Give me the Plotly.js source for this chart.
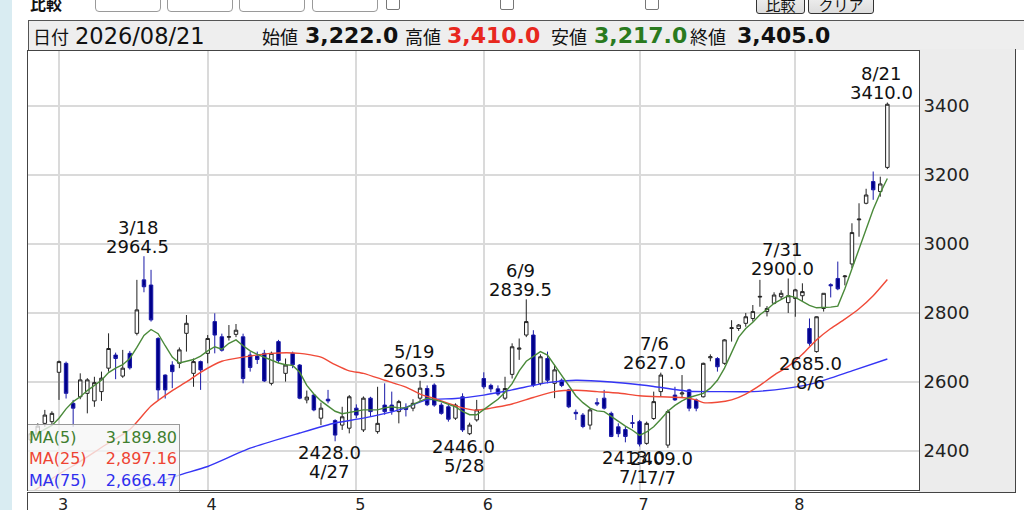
<!DOCTYPE html>
<html><head><meta charset="utf-8">
<script src="https://cdn.plot.ly/plotly-3.0.1.min.js"></script>
<style>
html,body{margin:0;padding:0;width:1024px;height:510px;overflow:hidden;background:#fff;font-family:"DejaVu Sans","Noto Sans CJK JP",sans-serif;color:#111;}
.abs{position:absolute;}
#side{left:0;top:0;width:12px;height:510px;background:#d9ecf2;}
.inp{top:-22px;height:32px;width:64px;border:1px solid #9a9a9a;border-radius:4px;background:#fff;}
.chk{top:-4px;width:12px;height:12px;border:1px solid #777;border-radius:2px;background:#fff;}
.btn{top:-18px;height:30px;border:1px solid #333;border-radius:3px;background:linear-gradient(#ffffff,#dcdcdc);font-size:15px;text-align:center;line-height:46px;overflow:hidden;}
#hdr{left:28px;top:20px;width:1000px;height:29px;background:#eeeeee;border-top:1px solid #555;border-left:1px solid #555;}
.ht{top:23px;height:26px;line-height:26px;white-space:nowrap;}
.kj{font-family:"Noto Sans CJK JP",sans-serif;font-size:18px;}
.num{font-size:22px;font-weight:bold;}
#rpanel{left:919px;top:49px;width:96px;height:443px;background:#ececec;border-right:1px solid #444;}
#xbox{left:27px;top:492px;width:988px;height:30px;border-top:1px solid #444;border-left:1px solid #444;background:#fff;}
#chart{left:0;top:0;width:1024px;height:510px;}
#leg{left:28px;top:424px;width:151px;height:67px;background:rgba(246,246,246,0.78);border-top:1px solid #999;border-right:1px solid #999;font-size:16px;}
.lr{position:absolute;left:1px;width:149px;height:22px;line-height:22px;}
.lr span{position:absolute;right:1px;}
</style></head><body>
<div id="side" class="abs"></div>
<div class="abs" style="left:30px;top:-9px;font-size:16px;font-weight:bold;">比較</div>
<div class="abs inp" style="left:95px;"></div>
<div class="abs inp" style="left:167px;"></div>
<div class="abs inp" style="left:239px;"></div>
<div class="abs inp" style="left:312px;"></div>
<div class="abs chk" style="left:386px;"></div>
<div class="abs chk" style="left:500px;"></div>
<div class="abs chk" style="left:645px;"></div>
<div class="abs btn" style="left:756px;width:47px;">比較</div>
<div class="abs btn" style="left:808px;width:64px;">クリア</div>
<div id="hdr" class="abs"></div>
<div class="abs ht kj" style="left:33px;">日付</div>
<div class="abs ht" style="left:75px;font-size:22.5px;">2026/08/21</div>
<div class="abs ht kj" style="left:262px;">始値</div>
<div class="abs ht num" style="left:305px;">3,222.0</div>
<div class="abs ht kj" style="left:405px;">高値</div>
<div class="abs ht num" style="left:447px;color:#e8281e;">3,410.0</div>
<div class="abs ht kj" style="left:551px;">安値</div>
<div class="abs ht num" style="left:594px;color:#2a7a1e;">3,217.0</div>
<div class="abs ht kj" style="left:690px;">終値</div>
<div class="abs ht num" style="left:737px;">3,405.0</div>
<div id="rpanel" class="abs"></div>
<div id="xbox" class="abs"></div>
<div id="chart" class="abs"></div>
<div id="leg" class="abs">
  <div class="lr" style="top:2px;color:#3f7f2f;">MA(5)<span>3,189.80</span></div>
  <div class="lr" style="top:23px;color:#ee4433;">MA(25)<span>2,897.16</span></div>
  <div class="lr" style="top:45px;color:#2f2fee;">MA(75)<span>2,666.47</span></div>
</div>
<script>
const dates = ['2/24','2/25','2/26','2/27',
'3/2','3/3','3/4','3/5','3/6','3/9','3/10','3/11','3/12','3/13','3/16','3/17','3/18','3/19','3/23','3/24','3/25','3/26','3/27','3/30','3/31',
'4/1','4/2','4/3','4/6','4/7','4/8','4/9','4/10','4/13','4/14','4/15','4/16','4/17','4/20','4/21','4/22','4/23','4/24','4/27','4/28','4/30',
'5/1','5/7','5/8','5/11','5/12','5/13','5/14','5/15','5/18','5/19','5/20','5/21','5/22','5/25','5/26','5/27','5/28','5/29',
'6/1','6/2','6/3','6/4','6/5','6/8','6/9','6/10','6/11','6/12','6/15','6/16','6/17','6/18','6/19','6/22','6/23','6/24','6/25','6/26','6/29','6/30',
'7/1','7/2','7/3','7/6','7/7','7/8','7/9','7/10','7/13','7/14','7/15','7/16','7/17','7/21','7/22','7/23','7/24','7/27','7/28','7/29','7/30','7/31',
'8/3','8/4','8/5','8/6','8/7','8/10','8/12','8/13','8/14','8/17','8/18','8/19','8/20','8/21'];

const open = [2432,2450,2480,2485,
2628,2654,2538,2557,2567,2545,2572,2640,2678,2617,2683,2741,2896,2881,2726,2620,2649,2654,2741,2625,2659,
2683,2775,2731,2730,2738,2731,2678,2675,2683,2596,2717,2625,2683,2649,2548,2562,2495,2550,2488,2475,2466,
2524,2461,2553,2456,2533,2533,2514,2526,2524,2553,2581,2591,2533,2528,2495,2557,2450,2490,
2610,2590,2580,2553,2622,2695,2736,2736,2596,2668,2596,2605,2577,2512,2504,2475,2540,2553,2509,2470,2462,2482,
2485,2422,2494,2572,2417,2562,2565,2577,2548,2557,2670,2668,2654,2755,2755,2770,2784,2846,2804,2828,2847,2830,
2842,2850,2755,2688,2813,2882,2900,2905,2942,3070,3118,3181,3152,3222];

const high = [2455,2480,2519,2515,
2662,2659,2548,2625,2611,2615,2630,2741,2685,2693,2690,2896,2964.5,2925,2730,2622,2660,2700,2794,2668,2662,
2736,2799,2740,2765,2768,2740,2688,2688,2693,2688,2722,2668,2688,2652,2575,2565,2540,2577,2492,2528,2562,
2535,2558,2557,2586,2596,2572,2548,2538,2550,2603.5,2590,2596,2540,2533,2538,2567,2482,2548,
2628,2595,2590,2615,2712,2726,2839.5,2750,2680,2688,2650,2610,2580,2520,2510,2524,2553,2577,2514,2480,2470,2504,
2490,2485,2572,2627,2520,2586,2620,2580,2552,2656,2680,2672,2724,2779,2768,2800,2823,2896,2820,2860,2866,2900,
2870,2886,2784,2790,2857,2886,2949,2910,3060,3118,3160,3210,3195,3410];

const low = [2420,2440,2470,2478,
2548,2552,2470,2550,2509,2528,2545,2630,2608,2612,2636,2735,2860,2775,2548,2552,2582,2640,2688,2586,2577,
2654,2683,2688,2720,2730,2596,2630,2652,2600,2590,2655,2601,2640,2550,2538,2515,2475,2538,2428,2461,2451,
2495,2455,2500,2450,2505,2505,2480,2500,2515,2545,2530,2528,2505,2485,2490,2455,2446,2485,
2580,2570,2560,2548,2610,2664,2730,2585,2590,2596,2553,2585,2524,2490,2466,2462,2530,2520,2440,2440,2425,2466,
2413,2418,2490,2557,2409,2545,2553,2515,2515,2555,2660,2630,2650,2717,2748,2760,2775,2818,2790,2825,2840,2800,
2789,2835,2705,2685,2804,2845,2866,2880,2930,3021,3115,3128,3137,3217];

const close = [2450,2472,2504,2509,
2659,2567,2524,2606,2606,2598,2611,2697,2668,2640,2641,2809,2876,2780,2577,2577,2630,2693,2770,2659,2635,
2726,2736,2692,2731,2750,2610,2642,2665,2603,2683,2662,2649,2650,2553,2556,2519,2524,2545,2446,2499,2557,
2504,2553,2514,2480,2514,2516,2543,2520,2538,2582,2534,2533,2509,2492,2533,2461,2475,2519,
2586,2580,2565,2581,2702,2698,2775,2591,2673,2605,2635,2590,2528,2508,2471,2519,2536,2524,2442,2450,2442,2480,
2420,2480,2543,2620,2514,2548,2568,2524,2524,2654,2673,2644,2722,2757,2765,2789,2804,2848,2813,2852,2857,2850,
2867,2862,2712,2789,2857,2879,2870,2907,3033,3072,3142,3157,3174,3405];

const ma5 = [2440,2452,2463,2474,
2495,2522,2543,2557,2575,2590,2605,2627,2640,2650,2668,2700,2735,2752,2740,2705,2672,2655,2660,2665,2675,
2690,2702,2695,2712,2722,2705,2690,2680,2672,2665,2655,2650,2648,2628,2590,2565,2545,2530,2515,2508,2512,
2515,2519,2519,2519,2525,2528,2525,2525,2535,2545,2553,2548,2543,2535,2528,2515,2505,2505,
2519,2535,2550,2570,2595,2632,2660,2675,2688,2678,2648,2620,2590,2560,2540,2524,2516,2514,2500,2485,2472,2460,
2445,2455,2470,2492,2515,2532,2545,2555,2562,2567,2582,2605,2640,2685,2730,2755,2773,2795,2810,2828,2840,2850,
2845,2833,2822,2815,2815,2817,2820,2870,2928,2985,3045,3100,3148,3189.8];

const ma25Dates = ['2/24','3/2','3/5','3/10','3/16','3/19','3/25','3/27','3/31','4/3','4/8','4/14','4/20','4/23','4/27','4/30','5/7','5/12','5/15','5/19','5/21','5/25','5/27','5/29','6/2','6/5','6/10','6/15','6/18','6/23','6/26','7/1','7/6','7/9','7/13','7/14','7/16','7/21','7/23','7/27','7/29','7/31','8/4','8/6','8/10','8/13','8/17','8/19','8/21'];
const ma25 = [2278,2333,2370,2410,2462,2530,2575,2600,2628,2660,2672,2683,2683,2672,2650,2632,2625,2605,2585,2565,2552,2538,2525,2518,2524,2536,2555,2572,2576,2572,2568,2560,2557,2555,2548,2540,2541,2548,2565,2590,2620,2645,2680,2722,2755,2782,2812,2850,2897.16];

const ma75Dates = ['2/24','3/2','3/10','3/17','3/26','4/1','4/9','4/20','4/27','5/7','5/14','5/20','5/26','6/1','6/5','6/12','6/18','6/25','7/1','7/3','7/10','7/16','7/24','7/31','8/6','8/14','8/21'];
const ma75 = [2175,2205,2250,2288,2330,2355,2408,2452,2481,2495,2519,2548,2552,2562,2577,2598,2605,2600,2592,2587,2573,2572,2572,2582,2598,2632,2666.47];

const monthTicks = ['3/2','4/1','5/1','6/1','7/1','8/3'];
const monthLabels = ['3','4','5','6','7','8'];
const yTicks = [2400,2600,2800,3000,3200,3400];

const peakDates = ['3/18','5/19','6/9','7/6','7/31','8/21'];
const peakVals = [2964.5,2603.5,2839.5,2627.0,2900.0,3410.0];
const troughDates = ['4/27','5/28','7/1','7/7','8/6'];
const troughVals = [2428.0,2446.0,2413.0,2409.0,2685.0];

const F = '"DejaVu Sans","Noto Sans CJK JP",sans-serif';
const annFont = {family:F, size:18, color:'#111'};
const anns = [];
peakDates.forEach((d,k)=>{
  anns.push({x:d,y:peakVals[k],text:peakVals[k].toFixed(1),showarrow:false,xshift:-6,yshift:10,yanchor:'middle',font:annFont});
  anns.push({x:d,y:peakVals[k],text:d,showarrow:false,xshift:-6,yshift:29,yanchor:'middle',font:annFont});
});
troughDates.forEach((d,k)=>{
  anns.push({x:d,y:troughVals[k],text:troughVals[k].toFixed(1),showarrow:false,xshift:-6,yshift:-11,yanchor:'middle',font:annFont});
  anns.push({x:d,y:troughVals[k],text:d,showarrow:false,xshift:-6,yshift:-30,yanchor:'middle',font:annFont});
});

const traces = [
 {type:'candlestick',x:dates,open:open,high:high,low:low,close:close,whiskerwidth:0,hoverinfo:'none',
  increasing:{line:{color:'#222222',width:1},fillcolor:'#ffffff'},
  decreasing:{line:{color:'#1a1aa8',width:1},fillcolor:'#00008a'}},
 {type:'scatter',mode:'lines',x:ma75Dates,y:ma75,line:{color:'#3535f5',width:1.4,shape:'spline',smoothing:0.6},hoverinfo:'none'},
 {type:'scatter',mode:'lines',x:ma25Dates,y:ma25,line:{color:'#f04a38',width:1.4,shape:'spline',smoothing:0.6},hoverinfo:'none'},
 {type:'scatter',mode:'lines',x:dates,y:ma5,line:{color:'#4a8a3a',width:1.4},hoverinfo:'none'}
];

const layout = {
 width:1024,height:510,
 margin:{l:28,r:105,t:51,b:20,pad:0},
 paper_bgcolor:'rgba(0,0,0,0)',plot_bgcolor:'#ffffff',
 showlegend:false,
 xaxis:{type:'category',range:[-0.378,125.47],tickvals:monthTicks,ticktext:monthLabels,
   showgrid:true,gridcolor:'#dadada',gridwidth:2,ticks:'',showline:true,linecolor:'#444',linewidth:1,mirror:true,
   rangeslider:{visible:false},tickfont:{family:F,size:16,color:'#222'},ticklabelshift:4,zeroline:false,fixedrange:true},
 yaxis:{side:'right',range:[2286.8,3559.4],tickvals:yTicks,showgrid:true,gridcolor:'#dadada',gridwidth:2,ticks:'',
   showline:true,linecolor:'#444',linewidth:1,mirror:true,tickfont:{family:F,size:18,color:'#222'},zeroline:false,fixedrange:true},
 annotations:anns
};
Plotly.newPlot('chart',traces,layout,{staticPlot:true,displayModeBar:false});
</script>
</body></html>
